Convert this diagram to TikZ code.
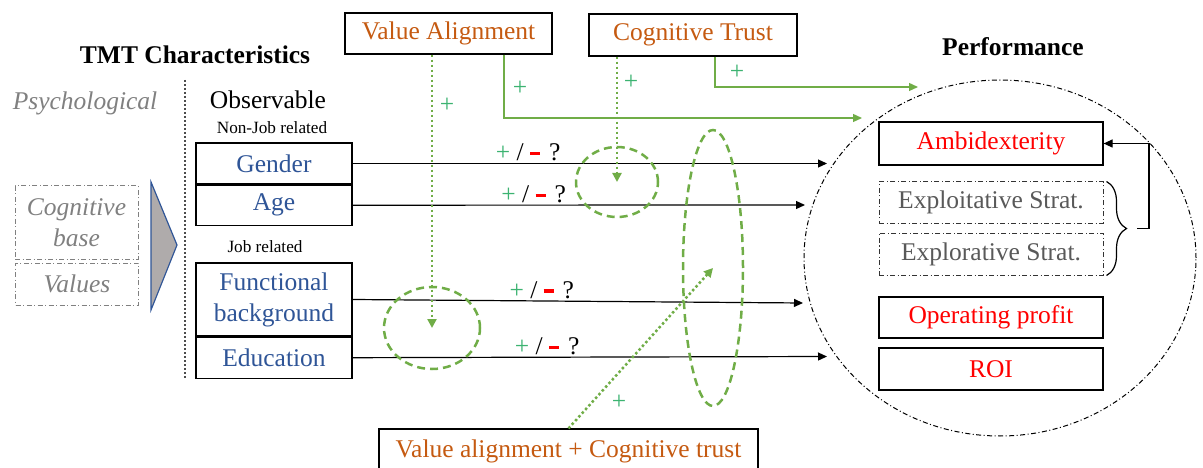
\documentclass[tikz,border=0pt]{standalone}
\usepackage{fontspec}
\setmainfont{Liberation Serif}
\usetikzlibrary{arrows.meta}
\usetikzlibrary{calc,positioning}
\usetikzlibrary{shapes.geometric}
\usetikzlibrary{decorations.pathreplacing}
\definecolor{modorange}{HTML}{C55A11}
\definecolor{charblue}{HTML}{2F5597}
\definecolor{linegreen}{HTML}{70AD47}
\definecolor{plusgreen}{HTML}{3CB371}
\definecolor{psygray}{HTML}{808080}
\definecolor{stratgray}{HTML}{595959}
\definecolor{chevfill}{HTML}{AFABAB}
\newcommand{\bigsize}{\fontsize{25.5}{31}\selectfont}
\newcommand{\smallsize}{\fontsize{17.2}{20}\selectfont}
\newcommand{\pmq}{\textcolor{plusgreen}{+} / \textcolor{red}{\rule[0.2em]{10pt}{3.5pt}}\hspace{9pt}?}

\begin{document}
\begin{tikzpicture}[x=1pt,y=-1pt,
  dashdotted/.style={dash pattern=on 5pt off 2.5pt on 1pt off 2.5pt},
  charbox/.style={draw,line width=1.2pt,minimum width=156pt,inner sep=0pt,text=charblue,font=\bigsize,align=center},
  psybox/.style={draw=psygray,dashdotted,line width=1pt,minimum width=123pt,inner sep=0pt,text=psygray,font=\bigsize\itshape,align=center},
  modbox/.style={draw,line width=1.2pt,inner sep=0pt,text=modorange,font=\bigsize},
  perfbox/.style={draw,line width=1.2pt,minimum width=224pt,inner sep=0pt,text=red,font=\bigsize},
  stratbox/.style={draw=black!80,dashdotted,line width=1pt,minimum width=224pt,inner sep=0pt,text=stratgray,font=\bigsize},
  modring/.style={draw=linegreen,ellipse,line width=2.5pt,dash pattern=on 8pt off 5pt,inner sep=0pt},
  blackarrow/.style={line width=1.2pt,-{Triangle[length=9pt,width=8pt]}},
  greenarrow/.style={linegreen,line width=1.3pt,-{Triangle[length=9pt,width=8pt]}},
  greendot/.style={linegreen,line width=2.5pt,dash pattern=on 2.5pt off 2.5pt,-{Triangle[length=9pt,width=9pt]}},
  pluslabel/.style={text=plusgreen,font=\bigsize,inner sep=0pt},
  pmlabel/.style={above,font=\bigsize,inner sep=2pt}]
\useasboundingbox (0,0) rectangle (1203,468);
%%%%%%%%%%%%%%%%%%%%%%%%%%%%
%%%%%%%%% TMT side %%%%%%%%%
%%%%%%%%%%%%%%%%%%%%%%%%%%%%
\node[font=\bigsize\bfseries] (tmttitle) at (195,55) {TMT Characteristics};
\node[font=\bigsize\itshape,text=psygray] (psych) at (85,103) {Psychological};
\node[psybox,minimum height=73pt] (cogbase) at (76.5,222.5) {Cognitive\\base};
\node[psybox,minimum height=42pt] (values) at (77,284) {Values};
\filldraw[fill=chevfill,draw=charblue,line width=1.2pt] (151,182) -- (177,245) -- (151,310) -- cycle;
\draw[black!70,line width=2pt,dash pattern=on 2pt off 2pt] (185,80) -- (185,378);
\node[font=\bigsize] (observ) at (268,100) {Observable};
\node[font=\smallsize] (nonjob) at (272,128) {Non-Job related};
\node[font=\smallsize] (job) at (265,247) {Job related};
\node[charbox,minimum height=41pt] (gender) at (274,163.5) {Gender};
\node[charbox,minimum height=40pt,below=0pt of gender] (age) {Age};
\node[charbox,minimum height=73pt] (funcbg) at (274,299.5) {Functional\\background};
\node[charbox,minimum height=41pt,below=0pt of funcbg] (edu) {Education};
%%%%%%%%%%%%%%%%%%%%%%%%%%%%
%%%%%%%%% Performance %%%%%%
%%%%%%%%%%%%%%%%%%%%%%%%%%%%
\node[font=\bigsize\bfseries] (perftitle) at (1013,47) {Performance};
\node[draw,ellipse,dashdotted,line width=1pt,minimum width=392pt,minimum height=356pt,inner sep=0pt] (perfring) at (1000,258) {};
\node[perfbox,minimum height=43pt] (ambi) at (991,143.5) {Ambidexterity};
\node[stratbox,minimum height=41pt] (exploit) at (991,202.5) {Exploitative Strat.};
\node[stratbox,minimum height=42pt] (explore) at (991,254) {Explorative Strat.};
\node[perfbox,minimum height=41pt] (opprofit) at (991,317.5) {Operating profit};
\node[perfbox,minimum height=42pt] (roi) at (991,369) {ROI};
\draw[line width=1.2pt,decorate,decoration={brace,amplitude=20pt,aspect=0.5}] ([xshift=3pt]exploit.north east) -- ([xshift=3pt]explore.south east);
\coordinate (bracetip) at (1137,228.5);
\draw[line width=1.2pt,-{Triangle[length=9pt,width=8pt]}] (bracetip) -- ++(12,0) |- (ambi.east);
%%%%%%%%%%%%%%%%%%%%%%%%%%%%
%%%%%%%%% Main effects %%%%%
%%%%%%%%%%%%%%%%%%%%%%%%%%%%
\coordinate (gendend) at (827,163.5);
\coordinate (ageend) at (805,205);
\coordinate (funcend) at (803,303);
\coordinate (eduend) at (827,356.5);
\draw[blackarrow] (gender.east) -- node[pmlabel,pos=0.37] {\pmq} (gendend);
\draw[blackarrow] (age.east) -- node[pmlabel,pos=0.40] {\pmq} (ageend);
\draw[blackarrow] (funcbg.east) -- node[pmlabel,pos=0.42] {\pmq} (funcend);
\draw[blackarrow] (edu.east) -- node[pmlabel,pos=0.41] {\pmq} (eduend);
%%%%%%%%%%%%%%%%%%%%%%%%%%%%
%%%%%%%%% Moderators %%%%%%%
%%%%%%%%%%%%%%%%%%%%%%%%%%%%
\node[modbox,minimum width=207pt,minimum height=41pt] (valign) at (448.5,33.5) {Value Alignment};
\node[modbox,minimum width=208pt,minimum height=42pt] (ctrust) at (693,35) {Cognitive Trust};
\node[modbox,minimum width=379pt,minimum height=44pt] (both) at (568.5,451) {Value alignment + Cognitive trust};
\node[modring,minimum width=82pt,minimum height=70pt] (modage) at (617,182) {};
\node[modring,minimum width=96pt,minimum height=82pt] (modfunc) at (432,328) {};
\node[modring,minimum width=60pt,minimum height=276pt] (modall) at (713,268) {};
\coordinate (vaend) at (862,118);
\coordinate (ctend) at (918,87);
\draw[greenarrow] ([xshift=55.5pt]valign.south) |- (vaend);
\draw[greenarrow] ([xshift=22pt]ctrust.south) |- (ctend);
\draw[greendot] (modfunc.center |- valign.south) -- (modfunc.center);
\draw[greendot] (modage.center |- ctrust.south) -- (modage.center);
\draw[greendot] (both.north) -- (modall.center);
\node[pluslabel] (plusva) at (447,105) {+};
\node[pluslabel] (plusvaperf) at (520,88) {+};
\node[pluslabel] (plusct) at (631,82) {+};
\node[pluslabel] (plusctperf) at (737,72) {+};
\node[pluslabel] (plusboth) at (619,402) {+};
\end{tikzpicture}
\end{document}
